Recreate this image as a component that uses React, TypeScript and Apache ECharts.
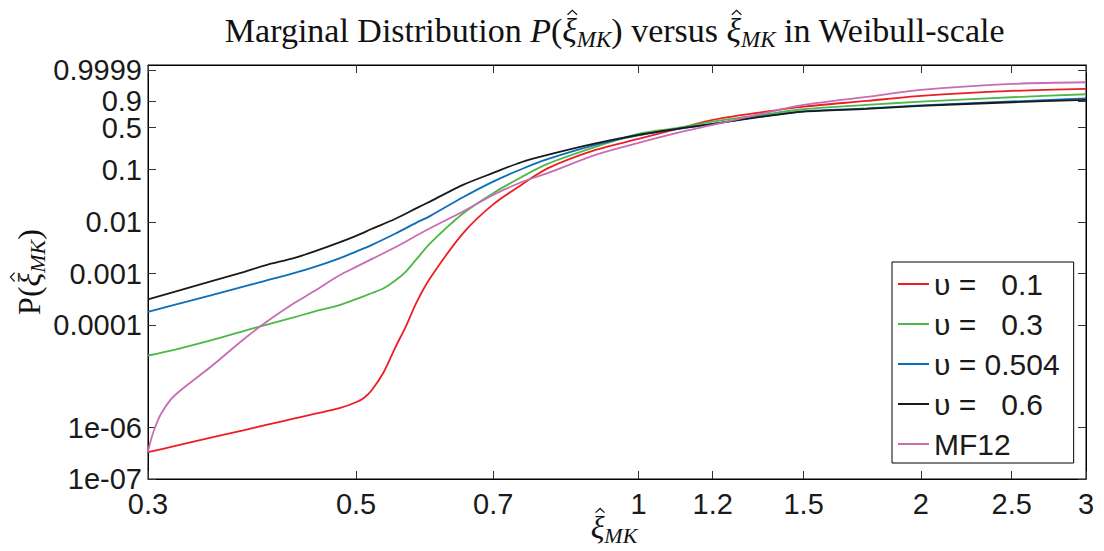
import React, { useEffect, useRef } from "react";
import * as echarts from "echarts";

// ξ̂_MK sample points and read-off probabilities P(ξ̂_MK) for each curve
const xiRed = [0.3, 0.32, 0.35, 0.38, 0.4, 0.43, 0.45, 0.48, 0.5, 0.51, 0.52, 0.535, 0.55, 0.565, 0.58, 0.6, 0.65, 0.7, 0.75, 0.8, 0.9, 1.0, 1.1, 1.2, 1.35, 1.5, 1.75, 2.0, 2.5, 3.0];
const pRed = [3.32e-7, 4.35e-7, 6.36e-7, 8.9e-7, 1.114e-6, 1.51e-6, 1.83e-6, 2.39e-6, 3.12e-6, 3.82e-6, 5.47e-6, 1.2e-5, 3.51e-5, 9.41e-5, 2.75e-4, 8.26e-4, 6.06e-3, 0.02198, 0.0518, 0.1056, 0.2255, 0.3417, 0.4803, 0.6247, 0.7464, 0.8312, 0.8993, 0.9434, 0.9725, 0.9804];

const xiGreen = [0.3, 0.32, 0.35, 0.38, 0.4, 0.43, 0.45, 0.48, 0.5, 0.52, 0.535, 0.55, 0.565, 0.58, 0.6, 0.65, 0.7, 0.75, 0.8, 0.9, 1.0, 1.1, 1.2, 1.35, 1.5, 1.75, 2.0, 2.5, 3.0];
const pGreen = [2.54e-5, 3.28e-5, 4.98e-5, 7.68e-5, 9.94e-5, 1.42e-4, 1.8e-4, 2.43e-4, 3.18e-4, 4.18e-4, 5.16e-4, 7.22e-4, 1.095e-3, 1.91e-3, 3.91e-3, 0.01462, 0.03607, 0.0724, 0.1275, 0.2535, 0.4073, 0.4957, 0.5969, 0.7063, 0.7945, 0.8533, 0.892, 0.9335, 0.9549];

const xiBlue = [0.3, 0.32, 0.35, 0.38, 0.4, 0.43, 0.45, 0.48, 0.5, 0.52, 0.55, 0.58, 0.6, 0.65, 0.7, 0.75, 0.8, 0.9, 1.0, 1.1, 1.2, 1.35, 1.5, 1.75, 2.0, 2.5, 3.0];
const pBlue = [1.8e-4, 2.46e-4, 3.77e-4, 5.65e-4, 7.22e-4, 1.03e-3, 1.32e-3, 1.98e-3, 2.68e-3, 3.62e-3, 5.93e-3, 9.79e-3, 0.0132, 0.0302, 0.0599, 0.102, 0.1551, 0.2737, 0.3869, 0.4803, 0.559, 0.682, 0.7645, 0.806, 0.8468, 0.8941, 0.9233];

const xiBlack = [0.3, 0.32, 0.35, 0.38, 0.4, 0.43, 0.45, 0.48, 0.5, 0.52, 0.55, 0.58, 0.6, 0.65, 0.7, 0.75, 0.8, 0.9, 1.0, 1.1, 1.2, 1.35, 1.5, 1.75, 2.0, 2.5, 3.0];
const pBlack = [3.16e-4, 4.41e-4, 7.06e-4, 1.08e-3, 1.445e-3, 2.02e-3, 2.65e-3, 4.05e-3, 5.42e-3, 7.42e-3, 0.01149, 0.01859, 0.02511, 0.05184, 0.08715, 0.1369, 0.1848, 0.2897, 0.3939, 0.4803, 0.559, 0.674, 0.7588, 0.799, 0.8404, 0.8854, 0.9094];

const xiPink = [0.3, 0.302, 0.305, 0.31, 0.32, 0.35, 0.38, 0.4, 0.43, 0.45, 0.48, 0.5, 0.52, 0.55, 0.58, 0.6, 0.65, 0.7, 0.75, 0.8, 0.9, 1.0, 1.1, 1.2, 1.35, 1.5, 1.75, 2.0, 2.5, 3.0];
const pPink = [3.39e-7, 5.56e-7, 9.74e-7, 1.91e-6, 4.18e-6, 1.53e-5, 5.37e-5, 1.1e-4, 2.69e-4, 4.41e-4, 9.24e-4, 1.35e-3, 1.93e-3, 3.21e-3, 5.5e-3, 7.66e-3, 0.016, 0.0334, 0.0583, 0.0861, 0.1848, 0.2951, 0.4215, 0.5432, 0.7223, 0.8533, 0.9358, 0.9767, 0.9927, 0.99505];

const seriesNames = [
  "υ\u00a0=\u00a0\u00a0\u00a00.1",
  "υ\u00a0=\u00a0\u00a0\u00a00.3",
  "υ\u00a0=\u00a00.504",
  "υ\u00a0=\u00a0\u00a0\u00a00.6",
  "MF12",
];
const seriesColors = ["#ee1d23", "#4db848", "#0a6fb8", "#1a1a1a", "#c86cb4"];

const xTickValues = [0.3, 0.5, 0.7, 1, 1.2, 1.5, 2, 2.5, 3];
const yTickProbs = [1e-7, 1e-6, 1e-4, 1e-3, 0.01, 0.1, 0.5, 0.9, 0.9999];
const yTickLabels = ["1e-07", "1e-06", "0.0001", "0.001", "0.01", "0.1", "0.5", "0.9", "0.9999"];
const xRange = [0.3, 3];
const yRangeP = [1e-7, 0.99999];

// Math-style text pieces: r = roman, i = italic, s = italic subscript, h = italic with hat
type Seg = { t: string; st: "r" | "i" | "s" | "h" };
const titleSegs: Seg[] = [
  { t: "Marginal Distribution ", st: "r" }, { t: "P", st: "i" }, { t: "(", st: "r" },
  { t: "ξ", st: "h" }, { t: "MK", st: "s" }, { t: ") versus ", st: "r" },
  { t: "ξ", st: "h" }, { t: "MK", st: "s" }, { t: " in Weibull-scale", st: "r" },
];
const yNameSegs: Seg[] = [{ t: "P(", st: "r" }, { t: "ξ", st: "h" }, { t: "MK", st: "s" }, { t: ")", st: "r" }];
const xNameSegs: Seg[] = [{ t: "ξ", st: "h" }, { t: "MK", st: "s" }];

const weib = (p: number) => Math.log(-Math.log1p(-p));
const SERIF = "'Liberation Serif'";

function mathGroup(segs: Seg[], size: number, subSize: number, cx: number, cy: number, rotation = 0) {
  const canvas = document.createElement("canvas");
  const ctx = canvas.getContext("2d")!;
  const fontOf = (st: string) => {
    const it = st === "r" ? "normal" : "italic";
    const sz = st === "s" ? subSize : size;
    return `${it} ${sz}px ${SERIF}`;
  };
  const widths = segs.map((s) => {
    ctx.font = fontOf(s.st);
    return ctx.measureText(s.t).width;
  });
  const total = widths.reduce((a, b) => a + b, 0);
  let x = -total / 2;
  const base = 0.34 * size;
  const children: any[] = [];
  segs.forEach((s, k) => {
    const sz = s.st === "s" ? subSize : size;
    const b = s.st === "s" ? base + 0.16 * size : base;
    children.push({
      type: "text", x, y: b - 0.34 * sz,
      style: { text: s.t, font: fontOf(s.st), fill: "#111", align: "left", verticalAlign: "middle", lineHeight: sz },
    });
    if (s.st === "h") {
      const hx = x + widths[k] / 2 + 0.08 * size;
      const hw = 0.14 * size;
      children.push({
        type: "polyline",
        shape: { points: [[hx - hw, base - 0.79 * size], [hx, base - 0.92 * size], [hx + hw, base - 0.79 * size]] },
        style: { stroke: "#111", lineWidth: 1.2, fill: "none" },
      });
    }
    x += widths[k];
  });
  return { type: "group", x: cx, y: cy, rotation, children };
}

export default function App() {
  const ref = useRef<HTMLDivElement>(null);
  useEffect(() => {
    if (!ref.current) return;
    document.body.style.margin = "0";
    const chart = echarts.init(ref.current, undefined, { renderer: "svg" });
    const xPos = xTickValues.map((v) => Math.log(v));
    const yPos = yTickProbs.map(weib);
    const xFmt = (v: number) => String(Number(Math.exp(v).toFixed(2)));
    const yFmt = (v: number) => {
      let best = 0;
      for (let i = 0; i < yPos.length; i++) if (Math.abs(yPos[i] - v) < Math.abs(yPos[best] - v)) best = i;
      return yTickLabels[best];
    };
    const labelFont = { fontFamily: "Liberation Sans, Arial, sans-serif", fontSize: 29, lineHeight: 24, color: "#1a1a1a" };
    const xs = [xiRed, xiGreen, xiBlue, xiBlack, xiPink];
    const ps = [pRed, pGreen, pBlue, pBlack, pPink];
    const line = { show: true, onZero: false, lineStyle: { color: "#000", width: 1 } };
    const tick = (vals: number[]) => ({ show: true, inside: true, length: 8, customValues: vals, lineStyle: { color: "#333" } });
    chart.setOption({
      animation: false,
      backgroundColor: "#fff",
      grid: { left: 148, right: 18, top: 65, bottom: 72, show: true, borderColor: "#000", borderWidth: 1, containLabel: false },
      xAxis: [
        {
          type: "value", min: Math.log(xRange[0]), max: Math.log(xRange[1]), position: "bottom",
          axisLine: line, axisTick: tick(xPos),
          axisLabel: { show: true, customValues: xPos, formatter: xFmt, margin: 13, ...labelFont },
          splitLine: { show: false },
        },
        {
          type: "value", min: Math.log(xRange[0]), max: Math.log(xRange[1]), position: "top",
          axisLine: line, axisTick: tick(xPos),
          axisLabel: { show: false, customValues: xPos },
          splitLine: { show: false },
        },
      ],
      yAxis: [
        {
          type: "value", min: weib(yRangeP[0]), max: weib(yRangeP[1]), position: "left",
          axisLine: line, axisTick: tick(yPos),
          axisLabel: { show: true, customValues: yPos, formatter: yFmt, margin: 6, ...labelFont },
          splitLine: { show: false },
        },
        {
          type: "value", min: weib(yRangeP[0]), max: weib(yRangeP[1]), position: "right",
          axisLine: line, axisTick: tick(yPos),
          axisLabel: { show: false, customValues: yPos },
          splitLine: { show: false },
        },
      ],
      legend: {
        orient: "vertical", left: 892, top: 262,
        itemWidth: 31, itemHeight: 2, itemGap: 10, icon: "rect",
        padding: [7, 14, 4, 6],
        borderColor: "#000", borderWidth: 1, backgroundColor: "#fff",
        selectedMode: false,
        textStyle: { fontFamily: "Liberation Sans, Arial, sans-serif", fontSize: 30, lineHeight: 28, color: "#1a1a1a" },
        data: seriesNames,
      },
      graphic: [
        mathGroup(titleSegs, 34, 23, 615, 30),
        mathGroup(xNameSegs, 32, 22, 614, 527),
        mathGroup(yNameSegs, 32, 22, 29, 272, Math.PI / 2),
      ],
      series: seriesNames.map((name, k) => ({
        name, type: "line", xAxisIndex: 0, yAxisIndex: 0,
        data: xs[k].map((x, i) => [Math.log(x), weib(ps[k][i])]),
        showSymbol: false, symbol: "none", smooth: 0.3,
        color: seriesColors[k],
        lineStyle: { color: seriesColors[k], width: 1.8 },
        clip: true,
      })),
    });
    return () => chart.dispose();
  }, []);
  return <div ref={ref} style={{ position: "fixed", left: 0, top: 0, width: 1104, height: 551, background: "#fff" }} />;
}
